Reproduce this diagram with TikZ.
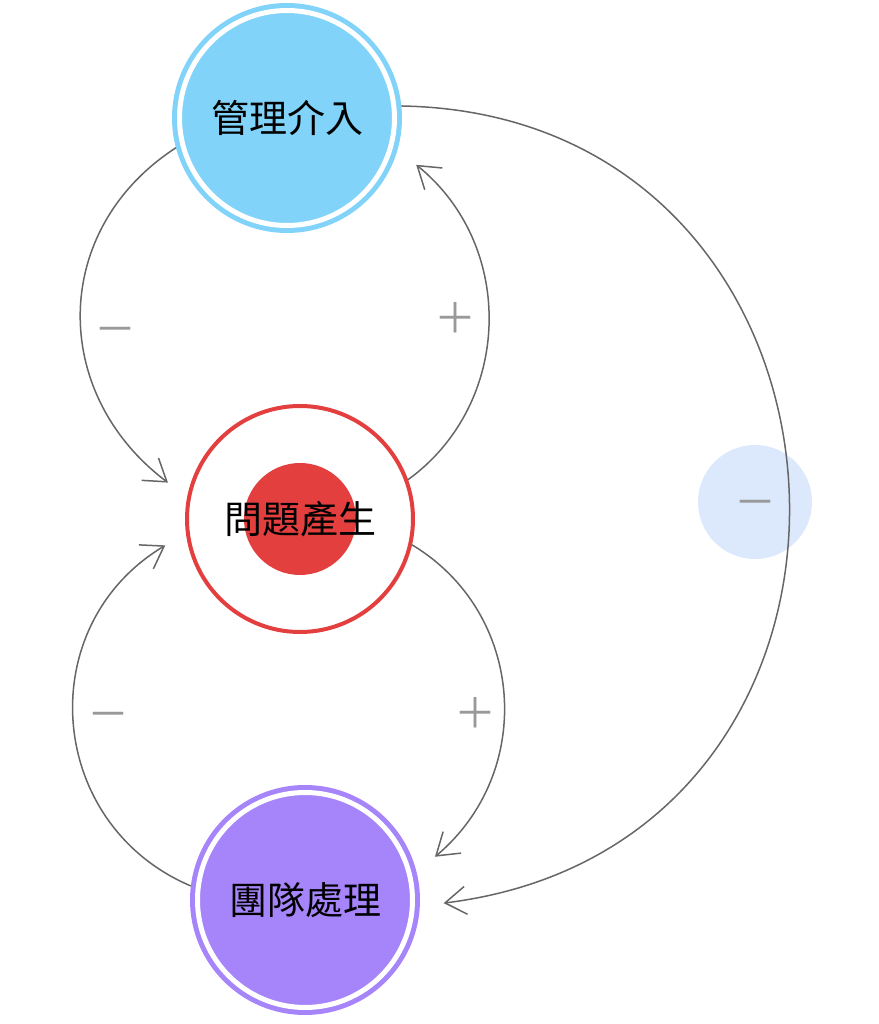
\documentclass[tikz,border=0pt]{standalone}
\usepackage{fontspec}
\newfontfamily\cjk{Noto Sans CJK TC}
\usetikzlibrary{arrows.meta}
\newlength\pxu
\setlength\pxu{0.5pt}
\definecolor{mgmtblue}{HTML}{81D3F9}
\definecolor{issuered}{HTML}{E43F3F}
\definecolor{teampurple}{HTML}{A684FA}
\definecolor{bubbleblue}{HTML}{DCE8FB}
\definecolor{linkgray}{HTML}{666666}
\definecolor{signgray}{HTML}{999999}
\begin{document}
\begin{tikzpicture}[x=0.5pt,y=0.5pt,
 ring/.style={circle,minimum size=215\pxu,inner sep=0pt,outer sep=7.5\pxu,line width=5\pxu,
  draw=#1,fill=#1,double=white,double distance=5\pxu,font=\cjk\fontsize{19}{19}\selectfont},
 core/.style={circle,minimum size=226\pxu,inner sep=0pt,outer sep=2\pxu,line width=4\pxu,
  draw=issuered,fill=white,font=\cjk\fontsize{19}{19}\selectfont,
  path picture={\fill[issuered] (path picture bounding box.center) circle (56\pxu);}},
 bubble/.style={circle,minimum size=114\pxu,inner sep=0pt,fill=bubbleblue},
 sign/.style={text=signgray,inner sep=0pt,font=\cjk\fontsize{21}{21}\selectfont},
 negsign/.style={sign,yshift=-7\pxu},
 link/.style={draw=linkgray,line width=0.75pt,shorten >=12pt,
  -{Straight Barb[length=10.5pt,width=14pt]}}]
 \useasboundingbox (0,0) rectangle (879,1024);
 % the three stages
 \node[ring=mgmtblue] (mgmt) at (287,906) {管理介入};
 \node[core] (issue) at (300,505) {問題產生};
 \node[ring=teampurple] (team) at (305,124) {團隊處理};
 \node[bubble] (outer) at (755,522) {};
 % loops
 \draw[link] (mgmt.195) .. controls +(213:150) and +(143:172) .. (issue.169);
 \draw[link] (issue.20) .. controls +(36:129) and +(321:153) .. (mgmt.344);
 \draw[link] (issue.347) .. controls +(329:132) and +(40:156) .. (team.14);
 \draw[link] (team.173) .. controls +(157:157) and +(211:181) .. (issue.187);
 \draw[link] (mgmt.6) .. controls +(359:490) and +(7:514) .. (team.357);
 % signs
 \node[negsign] (outerneg) at (outer) {－};
 \node[negsign] (mgmtneg) at (115,695) {－};
 \node[sign] (issuepos) at (455,706) {＋};
 \node[sign] (teampos) at (475,311) {＋};
 \node[negsign] (teamneg) at (108,310) {－};
\end{tikzpicture}
\end{document}
